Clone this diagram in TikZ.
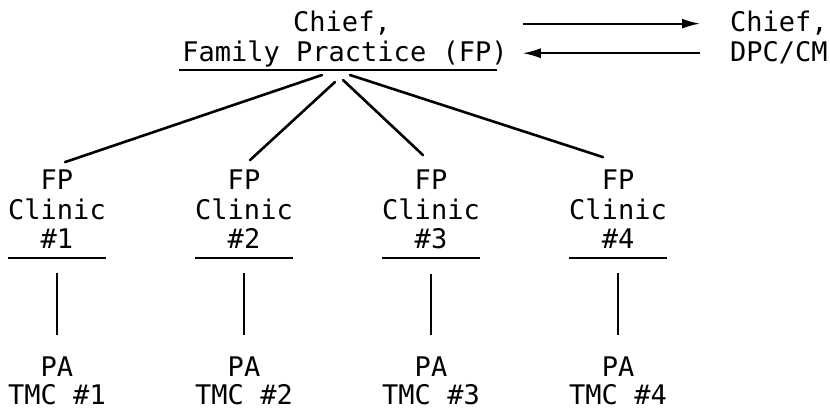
\documentclass[tikz,border=0pt]{standalone}
\usepackage{fontspec}
\newfontfamily\typew{DejaVu Sans Mono}
\usetikzlibrary{arrows.meta,calc}
\begin{document}
\begin{tikzpicture}[x=1pt,y=-1pt,
  txt/.style={font=\typew\fontsize{27}{30}\selectfont, inner sep=0pt, anchor=base},
  uline/.style={line width=1.7pt},
  fan/.style={line width=2.6pt, line cap=round},
  vline/.style={line width=1.6pt},
  arr/.style={line width=1.8pt, -{Latex[length=18pt,width=10pt]}}]
\useasboundingbox (0,0) rectangle (830,414);

% head of the organisation
\node[txt] (top1) at (342,32) {Chief,};
\node[txt] (top2) at (345,62) {Family Practice (FP)};
\draw[uline] ($(top2.base west)+(-3,8)$) -- ($(top2.base east)+(-11,8)$);

% coordinating office on the right
\node[txt, anchor=base west] (rc1) at (730,32) {Chief,};
\node[txt, anchor=base west] (rc2) at (730,62) {DPC/CM};
\draw[arr, shorten <=15pt, shorten >=30pt] (top2.east |- rc1.west) -- (rc1.west);
\draw[arr, shorten <=30pt, shorten >=15pt] (rc2.west) -- (top2.east |- rc2.west);

% clinics and their PA treatment centres
\foreach \i/\cx in {1/57, 2/244, 3/431, 4/618} {
  \node[txt] (fp\i) at (\cx,190) {FP};
  \node[txt] (cl\i) at (\cx,220) {Clinic};
  \node[txt] (nm\i) at (\cx,248) {\#\i};
  \draw[uline] ($(cl\i.base west)+(0,38)$) -- ($(cl\i.base east)+(0,38)$);
  \node[txt] (pa\i) at (\cx,376) {PA};
  \node[txt] (tm\i) at (\cx,404) {TMC \#\i};
  \draw[vline, shorten <=25pt, shorten >=21pt] (nm\i.south) -- (pa\i.north);
}

% fan of lines from the chief to the clinics
\coordinate (h1) at (322,75);
\coordinate (h2) at (335,82);
\coordinate (h3) at (343,80);
\coordinate (h4) at (350,75);
\draw[fan] (h1) -- ([shift={(8pt,8pt)}]fp1.north);
\draw[fan] (h2) -- ([shift={(6pt,10pt)}]fp2.north);
\draw[fan] (h3) -- ([shift={(-8pt,15pt)}]fp3.north);
\draw[fan] (h4) -- ([shift={(-15pt,13pt)}]fp4.north);
\end{tikzpicture}
\end{document}
